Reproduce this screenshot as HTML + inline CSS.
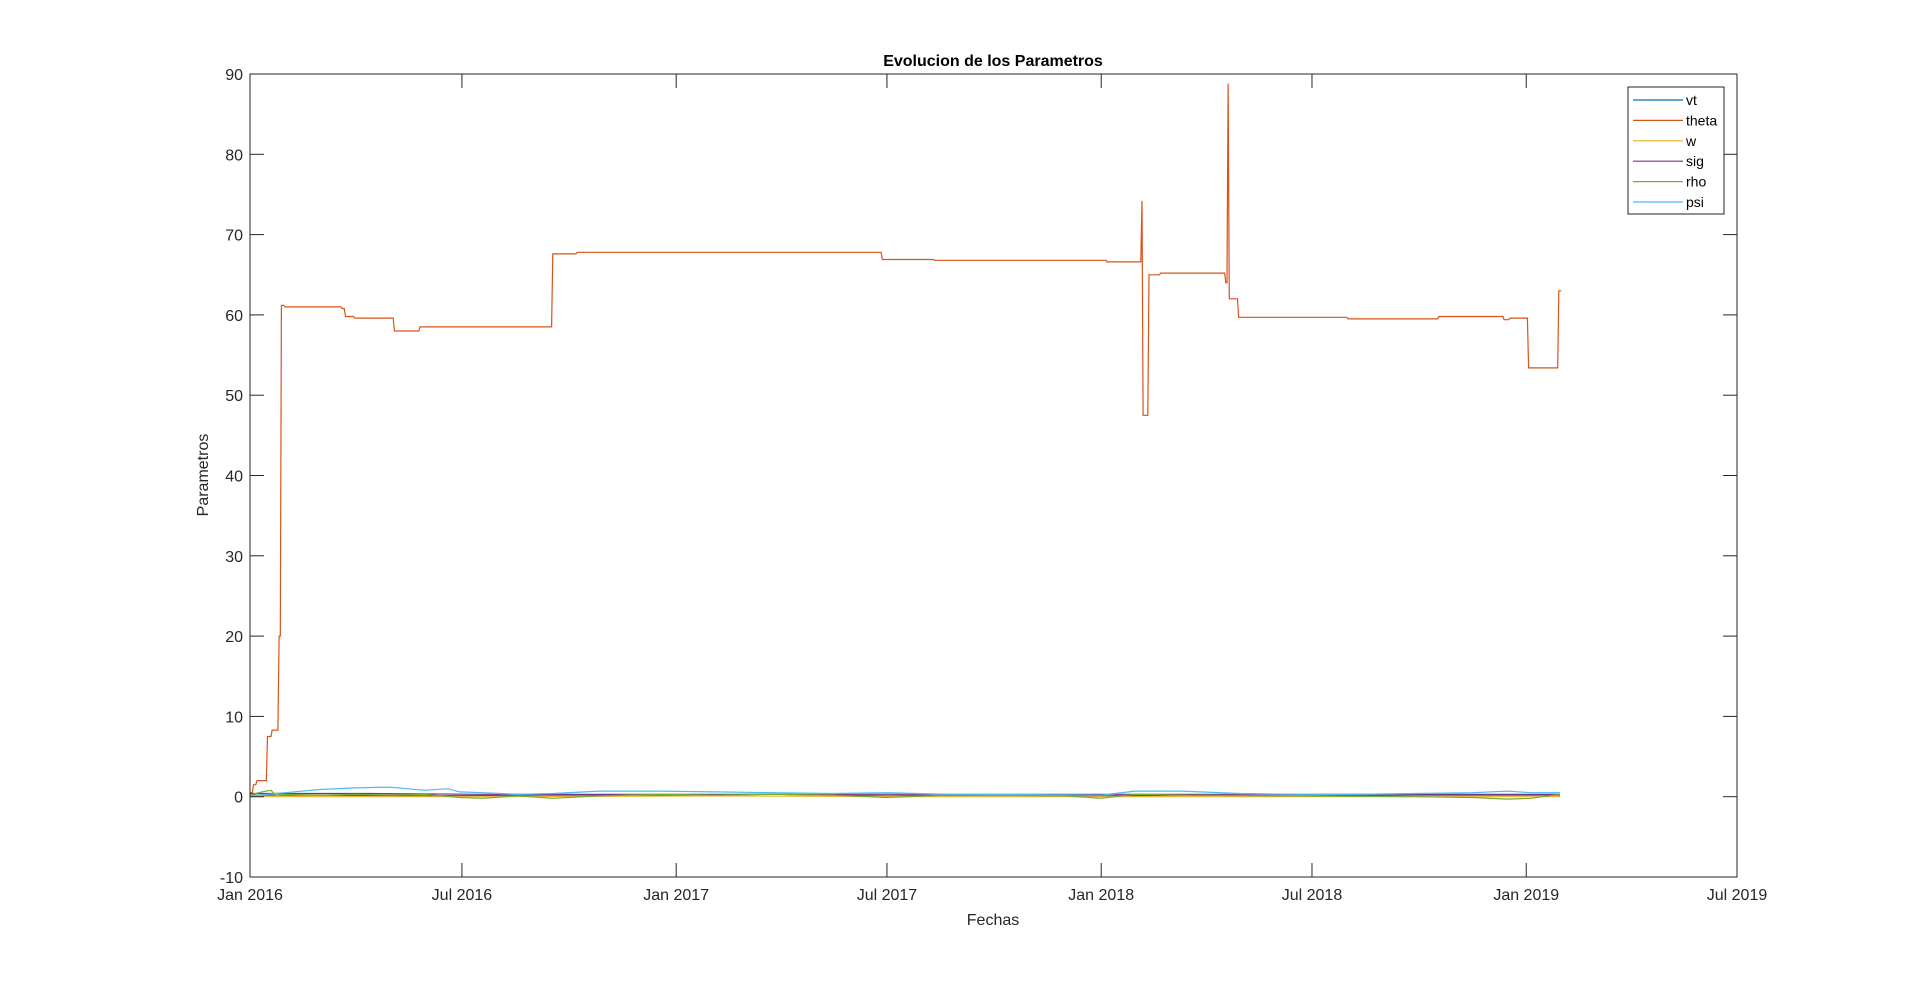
<!DOCTYPE html>
<html><head><meta charset="utf-8"><style>
body{margin:0;background:#fff;}
svg{display:block;font-family:"Liberation Sans",Arial,sans-serif;}
</style></head><body>
<svg id="chart" width="1920" height="986" viewBox="0 0 1920 986" xmlns="http://www.w3.org/2000/svg">
<rect width="1920" height="986" fill="#fff"/>
<text x="993" y="66" text-anchor="middle" font-size="16" font-weight="bold" fill="#000">Evolucion de los Parametros</text>
<g id="plot"></g>
<g id="axes"></g>
<text x="993" y="925" text-anchor="middle" font-size="16" fill="#262626">Fechas</text>
<text transform="translate(208,475) rotate(-90)" text-anchor="middle" font-size="16" fill="#262626">Parametros</text>
<g id="legend"></g>
</svg>
<script>
const xTickLabels=["Jan 2016","Jul 2016","Jan 2017","Jul 2017","Jan 2018","Jul 2018","Jan 2019","Jul 2019"];
const xTickDays=[0,182,366,547,731,912,1096,1277];
const yTicks=[-10,0,10,20,30,40,50,60,70,80,90];
const seriesNames=["vt","theta","w","sig","rho","psi"];
const thetaDays=[0,3,6,15,19,25,27,30,79,82,90,124,146,260,281,543,588,736,766,767,772,782,838,840,841,849,943,1021,1077,1082,1098,1124,1126];
const thetaVals=[0.5,1.5,2,7.5,8.3,20,61.2,61,60.8,59.8,59.6,58,58.5,67.6,67.8,66.9,66.8,66.6,74.2,47.5,65,65.2,64,88.8,62,59.7,59.5,59.8,59.4,59.6,53.4,63,63];
const vtDays=[0,60,150,250,350,450,547,650,731,800,900,1000,1125];
const vtVals=[0.2,0.2,0.1,0.2,0.2,0.3,0.1,0.2,0.1,0.2,0.1,0.2,0.2];
const wDays=[0,200,400,600,800,1000,1125];
const wVals=[0,0,0.1,0,0,0,0];
const sigDays=[0,100,200,300,400,500,600,731,850,1000,1125];
const sigVals=[0.4,0.4,0.3,0.3,0.3,0.3,0.3,0.3,0.3,0.3,0.3];
const rhoDays=[0,10,18,22,30,60,90,120,150,180,200,230,260,300,350,400,450,500,547,600,700,731,760,800,900,1000,1050,1080,1100,1125];
const rhoVals=[0.2,0.6,0.8,0.2,0.3,0.2,0.3,0.2,0.3,-0.1,-0.2,0.1,-0.2,0.1,0.3,0.2,0.3,0.2,-0.1,0.2,0.1,-0.2,0.3,0.2,0.1,0.0,-0.1,-0.3,-0.2,0.3];
const psiDays=[0,30,60,90,120,150,170,180,200,230,260,300,350,400,450,500,547,600,731,760,800,850,900,950,1000,1050,1080,1100,1125];
const psiVals=[0.1,0.5,0.9,1.1,1.2,0.8,1.0,0.6,0.5,0.3,0.4,0.7,0.7,0.6,0.5,0.4,0.5,0.3,0.2,0.7,0.7,0.4,0.3,0.3,0.4,0.5,0.7,0.5,0.5];
const colors={vt:"#0072BD",theta:"#D95319",w:"#EDB120",sig:"#7E2F8E",rho:"#77AC30",psi:"#4DBEEE"};
const L=250,R=1737,T=74,B=877,D0=0,D1=1277,Y0=-10,Y1=90;
const x=d=>L+(d-D0)/(D1-D0)*(R-L);
const y=v=>B-(v-Y0)/(Y1-Y0)*(B-T);
const NS="http://www.w3.org/2000/svg";
function mk(t,a,p){const e=document.createElementNS(NS,t);for(const k in a)e.setAttribute(k,a[k]);p.appendChild(e);return e;}
const plot=document.getElementById('plot'),axes=document.getElementById('axes'),leg=document.getElementById('legend');
const data={vt:[vtDays,vtVals],theta:[thetaDays,thetaVals],w:[wDays,wVals],sig:[sigDays,sigVals],rho:[rhoDays,rhoVals],psi:[psiDays,psiVals]};
seriesNames.forEach(n=>{const [ds,vs]=data[n];
 let pts=[];
 if(n==='theta'){
  ds.forEach((d,i)=>{ if(i>0){pts.push(x(d-1).toFixed(1)+','+y(vs[i-1]).toFixed(1));} pts.push(x(d).toFixed(1)+','+y(vs[i]).toFixed(1)); });
 } else pts=ds.map((d,i)=>x(d).toFixed(1)+','+y(vs[i]).toFixed(1));
 const p=mk('polyline',{points:pts.join(' '),fill:'none',stroke:colors[n],'stroke-width':1.2},plot);
 
 });
const box=mk('rect',{x:L,y:T,width:R-L,height:B-T,fill:'none',stroke:'#262626','stroke-width':1},axes);


xTickDays.forEach((d,i)=>{const xx=x(d);
 mk('line',{x1:xx,x2:xx,y1:B,y2:B-14,stroke:'#262626'},axes);
 mk('line',{x1:xx,x2:xx,y1:T,y2:T+14,stroke:'#262626'},axes);
 const t=mk('text',{x:xx,y:B+23,'text-anchor':'middle','font-size':16,fill:'#262626'},axes);t.textContent=xTickLabels[i];
 
 });
yTicks.forEach(v=>{const yy=y(v);
 mk('line',{x1:L,x2:L+14,y1:yy,y2:yy,stroke:'#262626'},axes);
 mk('line',{x1:R,x2:R-14,y1:yy,y2:yy,stroke:'#262626'},axes);
 const t=mk('text',{x:L-7,y:yy+6,'text-anchor':'end','font-size':16,fill:'#262626'},axes);t.textContent=v;
 
 });
const lb=mk('rect',{x:1628,y:87,width:96,height:127,fill:'#fff',stroke:'#262626'},leg);


seriesNames.forEach((n,i)=>{const yy=100+i*20.4;
 const g=mk('g',{},leg);
 
 
 mk('line',{x1:1633,x2:1683,y1:yy,y2:yy,stroke:colors[n],'stroke-width':1.2},g);
 const t=mk('text',{x:1686,y:yy+5,'font-size':14,fill:'#000'},g);t.textContent=n;});
</script>
</body></html>
